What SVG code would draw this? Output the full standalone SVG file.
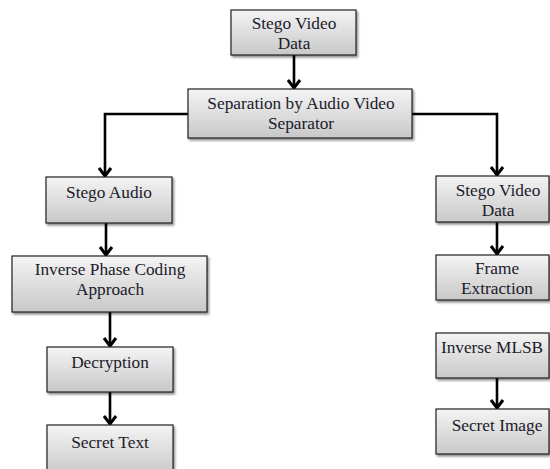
<svg xmlns="http://www.w3.org/2000/svg" width="550" height="469" viewBox="0 0 550 469">
<defs>
<linearGradient id="g" x1="0" y1="0" x2="0" y2="1">
<stop offset="0" stop-color="#f4f4f4"/>
<stop offset="1" stop-color="#c8c8c8"/>
</linearGradient>
<filter id="sh" x="-10%" y="-10%" width="130%" height="140%">
<feDropShadow dx="1.5" dy="2" stdDeviation="1" flood-color="#000" flood-opacity="0.45"/>
</filter>
<marker id="ar" markerWidth="14" markerHeight="16" refX="12" refY="8" orient="auto" markerUnits="userSpaceOnUse" viewBox="0 0 14 16">
<path d="M4,2 L12,8 L4,14" fill="none" stroke="#000" stroke-width="3"/>
</marker>
</defs>
<style>
rect{fill:url(#g);stroke:#222;stroke-width:1.2;filter:url(#sh)}
text{font-family:"Liberation Serif","Times New Roman",serif;font-size:17.3px;fill:#1b1b2b;text-anchor:middle}
.c{fill:none;stroke:#000;stroke-width:2.6;marker-end:url(#ar)}
</style>
<rect width="550" height="469" style="fill:#fff;stroke:none;filter:none"/>
<g id="connectors">
<path class="c" d="M294,55 V88"/>
<path class="c" d="M188,114 H105 V176"/>
<path class="c" d="M412,114 H497 V175"/>
<path class="c" d="M106,223 V255"/>
<path class="c" d="M110,312 V346"/>
<path class="c" d="M110,392 V424"/>
<path class="c" d="M497,222 V254"/>
<path class="c" d="M497,378 V408"/>
</g>
<g id="n1"><rect x="231" y="10" width="125" height="45"/><text x="294" y="29">Stego Video</text><text x="294" y="49">Data</text></g>
<g id="n2"><rect x="188" y="89" width="224" height="49"/><text x="301" y="109">Separation by Audio Video</text><text x="301" y="129">Separator</text></g>
<g id="n3"><rect x="46" y="177" width="126" height="46"/><text x="109" y="198">Stego Audio</text></g>
<g id="n4"><rect x="12" y="256" width="195" height="56"/><text x="110" y="275">Inverse Phase Coding</text><text x="110" y="295">Approach</text></g>
<g id="n5"><rect x="47" y="347" width="126" height="45"/><text x="110" y="368">Decryption</text></g>
<g id="n6"><rect x="47" y="425" width="126" height="50"/><text x="110" y="448">Secret Text</text></g>
<g id="n7"><rect x="436" y="176" width="113" height="46"/><text x="498" y="196">Stego Video</text><text x="498" y="216">Data</text></g>
<g id="n8"><rect x="436" y="255" width="113" height="45"/><text x="497" y="274">Frame</text><text x="497" y="294">Extraction</text></g>
<g id="n9"><rect x="436" y="333" width="113" height="45"/><text x="492" y="353">Inverse MLSB</text></g>
<g id="n10"><rect x="436" y="409" width="113" height="45"/><text x="497" y="431">Secret Image</text></g>
</svg>
